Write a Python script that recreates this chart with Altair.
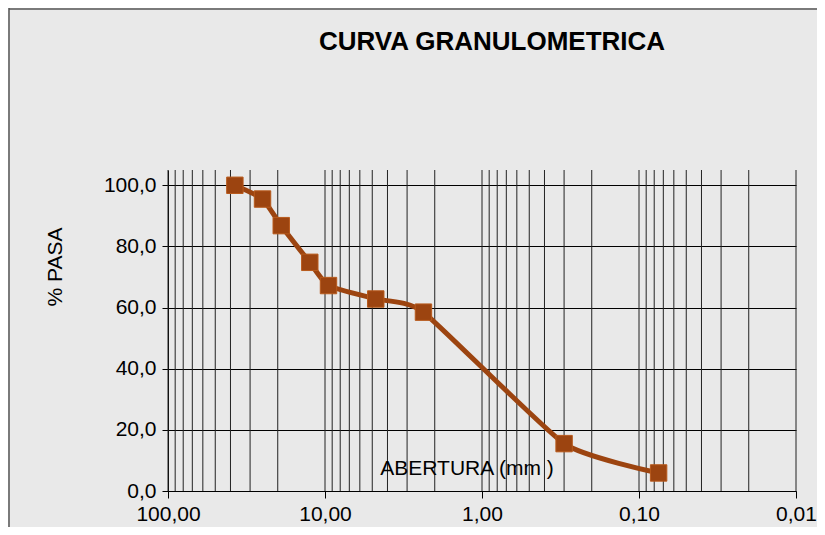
import altair as alt
import pandas as pd

# ---- data ----
aberturas = [37.5, 25.0, 19.0, 12.5, 9.5, 4.75, 2.36, 0.30, 0.075]
pasa = [100.0, 95.5, 86.8, 74.8, 67.2, 62.8, 58.5, 15.5, 5.9]
x_major = [100, 10, 1, 0.1, 0.01]
y_ticks = [0, 20, 40, 60, 80, 100]
grid_x = [m * 10.0 ** e for e in (-2, -1, 0, 1) for m in range(1, 10)] + [100.0]

title_txt = "CURVA GRANULOMETRICA"
ytitle_txt = "% PASA"
xtitle_txt = "ABERTURA (mm )"

W, H = 628, 321
FONT = "Liberation Sans"
BROWN = "#9c4410"

df = pd.DataFrame({"abertura": aberturas, "pasa": pasa})
grid_df = pd.DataFrame({"abertura": grid_x})
one = pd.DataFrame({"k": [0]})

xscale = alt.Scale(type="log", domain=[0.01, 100], reverse=True, nice=False)
yscale = alt.Scale(domain=[0, 105], nice=False)

xaxis = alt.Axis(
    values=x_major,
    grid=False,
    title=None,
    tickSize=7,
    tickColor="#000000",
    domainColor="#000000",
    labelFont=FONT,
    labelFontSize=21,
    labelColor="#000000",
    labelPadding=5,
    labelFlush=False,
    labelOverlap=False,
    labelExpr="replace(format(datum.value, '.2f'), '.', ',')",
)
yaxis = alt.Axis(
    values=y_ticks,
    grid=True,
    gridColor="#000000",
    gridWidth=1,
    title=None,
    tickSize=6,
    tickColor="#000000",
    domainColor="#000000",
    labelFont=FONT,
    labelFontSize=21,
    labelColor="#000000",
    labelPadding=6,
    labelExpr="replace(format(datum.value, '.1f'), '.', ',')",
)

border_left = alt.Chart(one).mark_rule(color="#555555", strokeWidth=1.5).encode(
    x=alt.value(-159), y=alt.value(-170), y2=alt.value(H + 60)
)
border_top = alt.Chart(one).mark_rule(color="#555555", strokeWidth=1.5).encode(
    y=alt.value(-161), x=alt.value(-159), x2=alt.value(W + 60)
)

grid = alt.Chart(grid_df).mark_rule(color="#222222", strokeWidth=1).encode(
    x=alt.X("abertura:Q", scale=xscale, axis=xaxis)
)

base = alt.Chart(df).encode(
    x=alt.X("abertura:Q", scale=xscale, axis=xaxis),
    y=alt.Y("pasa:Q", scale=yscale, axis=yaxis),
)

line = base.mark_line(color=BROWN, strokeWidth=5, interpolate="cardinal", tension=0.5)
pts = base.mark_square(color=BROWN, size=270, opacity=1, stroke="#b85a1c", strokeWidth=1)

title = alt.Chart(one).mark_text(
    text=title_txt, font=FONT, fontSize=26, fontWeight="bold", color="#000000",
    align="center", baseline="alphabetic"
).encode(x=alt.value(324), y=alt.value(-120))

ytitle = alt.Chart(one).mark_text(
    text=ytitle_txt, font=FONT, fontSize=21, color="#000000",
    align="center", baseline="middle", angle=270
).encode(x=alt.value(-112), y=alt.value(97))

xtitle = alt.Chart(one).mark_text(
    text=xtitle_txt, font=FONT, fontSize=21, color="#000000",
    align="center", baseline="alphabetic"
).encode(x=alt.value(299), y=alt.value(305))

chart = (
    alt.layer(border_left, border_top, grid, line, pts, xtitle, title, ytitle)
    .properties(
        width=W,
        height=H,
        autosize=alt.AutoSizeParams(type="none"),
        padding={"left": 160, "top": 162, "right": 21, "bottom": 36},
        background="#e9e9e9",
    )
    .configure_view(stroke=None)
)

chart.save("out.html", embed_options={"renderer": "svg", "actions": False})
